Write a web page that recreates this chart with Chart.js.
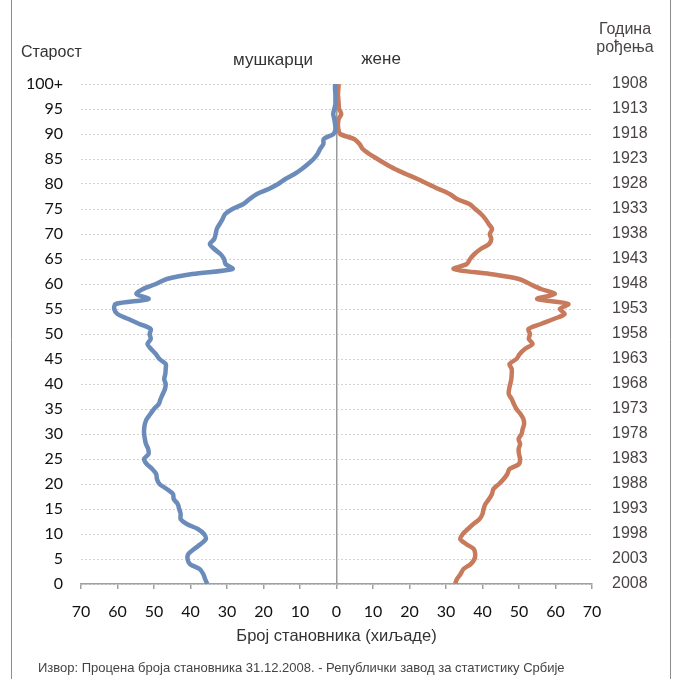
<!DOCTYPE html>
<html>
<head>
<meta charset="utf-8">
<script src="https://cdn.jsdelivr.net/npm/chart.js@4/dist/chart.umd.min.js"></script>
<style>
  html, body { margin: 0; padding: 0; background: #fff; }
  #wrap { position: relative; width: 674px; height: 679px; }
</style>
</head>
<body>
<div id="wrap"><canvas id="pyramid" width="674" height="679"></canvas></div>
<script>
// ages 0..100 (100 = 100+)
var ages = [0,1,2,3,4,5,6,7,8,9,10,11,12,13,14,15,16,17,18,19,20,21,22,23,24,25,26,27,28,29,30,
  31,32,33,34,35,36,37,38,39,40,41,42,43,44,45,46,47,48,49,50,51,52,53,54,55,56,57,58,59,60,
  61,62,63,64,65,66,67,68,69,70,71,72,73,74,75,76,77,78,79,80,81,82,83,84,85,86,87,88,89,90,
  91,92,93,94,95,96,97,98,99,100];

// thousands of people, per single year of age
var men = [35.4,36.0,36.5,37.5,40.2,40.8,40.6,39.0,37.2,35.8,36.3,38.0,41.0,42.7,42.7,43.1,43.5,44.6,44.8,46.5,
  48.5,49.2,49.4,50.5,52.0,52.7,51.5,51.6,52.2,52.5,52.7,52.7,52.5,52.0,51.0,50.0,48.7,48.2,47.6,47.0,
  46.8,47.2,46.9,46.8,46.8,48.5,49.5,50.8,51.8,50.9,51.2,50.9,54.0,57.0,60.0,60.9,60.5,51.5,54.8,53.0,
  49.5,46.5,39.5,28.5,30.4,30.8,31.8,33.5,34.7,33.5,33.1,32.8,32.0,31.2,30.5,28.5,25.5,23.8,21.8,18.6,
  16.0,14.0,11.5,9.5,7.8,6.3,5.2,4.5,3.6,3.5,0.8,0.3,0.4,0.6,0.9,0.6,0.3,0.3,0.3,0.4,0.4];

var women = [32.5,33.0,34.0,34.8,36.8,37.8,38.0,37.6,35.5,33.9,34.6,36.0,37.5,39.2,40.0,40.3,40.8,41.8,42.6,43.0,
  44.5,45.8,46.8,47.4,50.0,50.3,50.0,49.9,50.3,49.9,50.7,51.0,51.4,51.2,50.4,49.3,48.6,48.0,47.2,47.3,
  47.6,47.9,48.0,48.0,47.4,49.3,50.2,51.6,53.7,52.7,53.0,52.6,56.0,59.5,62.5,61.2,63.5,55.0,59.8,56.0,
  53.0,50.0,42.0,32.1,35.7,36.6,37.8,39.5,41.8,42.4,42.0,42.6,41.7,40.8,39.6,38.0,36.4,33.0,31.0,28.0,
  25.0,22.2,19.0,16.0,13.5,11.2,9.0,7.2,6.3,4.8,1.0,0.5,0.4,0.6,1.3,0.7,0.6,0.5,0.4,0.5,0.6];

var ageLabels = ['0','5','10','15','20','25','30','35','40','45','50','55','60','65','70','75','80','85','90','95','100+'];
var yearLabels = ['2008','2003','1998','1993','1988','1983','1978','1973','1968','1963','1958','1953','1948','1943','1938','1933','1928','1923','1918','1913','1908'];

var menPoints = ages.map(function(a, i) { return { x: -men[i], y: a }; });
var womenPoints = ages.map(function(a, i) { return { x: women[i], y: a }; });

var textPlugin = {
  id: 'texts',
  afterDraw: function(chart) {
    var ctx = chart.ctx;
    ctx.save();
    // frame lines
    ctx.strokeStyle = '#8c8c8c';
    ctx.lineWidth = 1;
    ctx.beginPath();
    ctx.moveTo(11.5, 0); ctx.lineTo(11.5, 679);
    ctx.moveTo(670.5, 0); ctx.lineTo(670.5, 679);
    ctx.stroke();

    ctx.fillStyle = '#333';
    ctx.textBaseline = 'middle';
    ctx.font = '16px "Liberation Sans", Arial, sans-serif';
    ctx.textAlign = 'left';
    ctx.fillText('Старост', 21, 53);
    ctx.textAlign = 'center';
    ctx.font = '17px "Liberation Sans", Arial, sans-serif';
    ctx.fillText('мушкарци', 273, 60);
    ctx.fillText('жене', 381, 59);
    ctx.font = '16px "Liberation Sans", Arial, sans-serif';
    ctx.fillStyle = '#4a4444';
    ctx.fillText('Година', 625, 30);
    ctx.fillText('рођења', 625, 48);
    ctx.fillStyle = '#444';
    ctx.font = '13px "Liberation Sans", Arial, sans-serif';
    ctx.textAlign = 'left';
    ctx.fillText('Извор: Процена броја становника 31.12.2008. - Републички завод за статистику Србије', 38, 668);
    ctx.restore();
  }
};

var ctx = document.getElementById('pyramid').getContext('2d');
new Chart(ctx, {
  type: 'scatter',
  data: {
    datasets: [
      {
        label: 'мушкарци',
        data: menPoints,
        showLine: true,
        borderColor: '#6b8cba',
        borderWidth: 4.5,
        pointRadius: 0,
        tension: 0.3,
        yAxisID: 'y'
      },
      {
        label: 'жене',
        data: womenPoints,
        showLine: true,
        borderColor: '#c77b5c',
        borderWidth: 4.5,
        pointRadius: 0,
        tension: 0.3,
        yAxisID: 'y'
      }
    ]
  },
  options: {
    responsive: false,
    animation: false,
    layout: { padding: { top: 84, left: 0, right: 0, bottom: 0 } },
    plugins: {
      legend: { display: false },
      tooltip: { enabled: false }
    },
    scales: {
      x: {
        type: 'linear',
        position: 'bottom',
        min: -70,
        max: 70,
        ticks: {
          stepSize: 10,
          padding: 13,
          color: '#111',
          font: { family: 'Lato', size: 16 },
          callback: function(v) { return Math.abs(v); }
        },
        grid: {
          color: function(c) { return c.tick && c.tick.value === 0 ? '#9a9a9a' : 'rgba(0,0,0,0)'; },
          lineWidth: 1.5,
          tickColor: '#a0a0a0',
          tickLength: 5,
          drawOnChartArea: true
        },
        border: { display: true, color: '#a0a0a0', width: 1.5 },
        title: {
          display: true,
          text: 'Број становника (хиљаде)',
          color: '#333',
          font: { family: 'Liberation Sans', size: 16.5 },
          padding: { top: 0, bottom: 33 }
        },
        afterFit: function(s) { s.height = 95; }
      },
      y: {
        type: 'linear',
        position: 'left',
        min: 0,
        max: 100,
        ticks: {
          stepSize: 5,
          padding: 18,
          color: '#111',
          font: { family: 'Lato', size: 16 },
          callback: function(v) { return ageLabels[v / 5]; }
        },
        grid: {
          color: '#d2d2d2',
          lineWidth: 1,
          drawTicks: false
        },
        border: { display: false, dash: [2, 2] },
        afterFit: function(s) { s.width = 81; }
      },
      y2: {
        type: 'linear',
        position: 'right',
        min: 0,
        max: 100,
        ticks: {
          stepSize: 5,
          padding: 20,
          color: '#4a4444',
          font: { family: 'Liberation Sans', size: 16 },
          callback: function(v) { return yearLabels[v / 5]; }
        },
        grid: { display: false, drawTicks: false },
        border: { display: false },
        afterFit: function(s) { s.width = 82; }
      }
    }
  },
  plugins: [textPlugin]
});
</script>
</body>
</html>
